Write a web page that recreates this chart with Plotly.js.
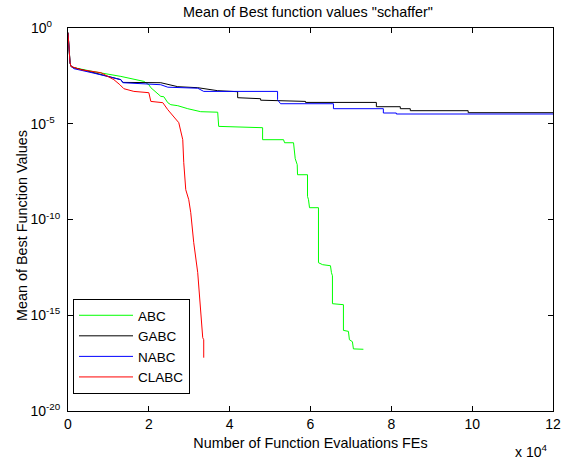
<!DOCTYPE html>
<html>
<head>
<meta charset="utf-8">
<script src="https://cdn.plot.ly/plotly-3.0.1.min.js"></script>
<style>html,body{margin:0;padding:0;background:#fff;}#chart{width:561px;height:464px;}</style>
</head>
<body>
<div id="chart"></div>
<script>
// Data (x: function evaluations, y: mean best value)
const seriesNames = ["ABC", "GABC", "NABC", "CLABC"];

const abcX = [0,247,500,741,1481,6420,13086,18765,20000,20494,22963,23704,24691,25432,27160,29630,32840,37037,37284,48148,48148,53333,53580,55802,56222,56716,56790,59259,59259,59506,59753,61975,61975,63000,64938,65185,65432,65432,68148,68148,69383,69630,70370,70617,73086];
const abcY = [5.69e-1,4.04e-2,1.54e-2,9.89e-3,8.45e-3,5.22e-3,2.97e-3,1.63e-3,1.09e-3,7.64e-4,2.68e-4,2.59e-4,1.26e-4,9.89e-5,8.77e-5,6.11e-5,4.26e-5,4.01e-5,7.28e-6,6.22e-6,1.47e-6,1.47e-6,1.02e-6,1.02e-6,1.50e-7,7.28e-8,2.18e-8,2.18e-8,1.61e-9,1.08e-9,4.13e-10,4.13e-10,5.55e-13,4.37e-13,3.86e-13,1.67e-13,1.15e-13,4.01e-15,3.56e-15,1.62e-16,1.44e-16,5.28e-17,4.16e-17,1.75e-17,1.67e-17];

const gabcX = [0,247,500,741,1481,6420,10617,13086,13580,22963,27160,32099,37037,41975,41975,47654,47654,55062,58765,58765,76296,76296,82222,82222,84691,84691,99012,99012,120000];
const gabcY = [5.69e-1,4.04e-2,1.54e-2,9.89e-3,8.45e-3,4.63e-3,2.86e-3,2.00e-3,1.44e-3,1.39e-3,8.61e-4,7.64e-4,5.32e-4,4.72e-4,2.29e-4,2.03e-4,1.70e-4,1.47e-4,1.47e-4,1.30e-4,1.30e-4,7.76e-5,7.76e-5,6.11e-5,6.11e-5,4.80e-5,4.80e-5,3.78e-5,3.78e-5];

const nabcX = [0,247,500,741,1481,6420,13086,13580,22963,24691,32099,33580,51852,51852,52593,65679,65679,78025,78025,81235,81235,120000];
const nabcY = [5.69e-1,4.04e-2,1.54e-2,9.89e-3,7.50e-3,4.37e-3,2.00e-3,1.39e-3,1.09e-3,8.11e-4,7.18e-4,4.89e-4,4.89e-4,1.80e-4,1.11e-4,1.11e-4,6.11e-5,6.11e-5,3.64e-5,3.64e-5,3.23e-5,3.23e-5];

const clabcX = [0,247,500,741,3210,8148,11358,12840,13827,16296,19506,20000,20494,23457,24691,26173,27407,28395,28642,29136,29877,30370,31111,32099,32593,32840,33086,33333,33580,33580];
const clabcY = [5.69e-1,4.04e-2,1.54e-2,9.89e-3,6.64e-3,4.63e-3,2.00e-3,1.09e-3,6.76e-4,4.89e-4,4.18e-4,4.18e-4,1.47e-4,1.26e-4,5.42e-5,2.33e-5,1.14e-5,1.47e-6,9.25e-8,3.60e-9,1.08e-9,2.26e-10,6.15e-12,1.67e-13,6.49e-15,8.39e-16,4.60e-16,6.73e-17,5.28e-17,6.08e-18];

const xTickVals = [0,20000,40000,60000,80000,100000,120000];
const xTickText = ["0","2","4","6","8","10","12"];
const yTickVals = [1e0,1e-5,1e-10,1e-15,1e-20];
// trailing no-break spaces keep the "10" bases left-aligned as in the reference
const yTickText = ["10<sup>0\u00a0\u00a0\u00a0</sup>","10<sup>-5\u00a0\u00a0</sup>","10<sup>-10</sup>","10<sup>-15</sup>","10<sup>-20</sup>"];

const colors = ["#00ff00", "#000000", "#0000ff", "#ff0000"];
const xs = [abcX, gabcX, nabcX, clabcX];
const ys = [abcY, gabcY, nabcY, clabcY];

const FONT = "Liberation Sans, Arial, sans-serif";
const W = 561, H = 464;
const M = {l: 68, r: 8, t: 28, b: 53};
const PW = W - M.l - M.r, PH = H - M.t - M.b;

const traces = seriesNames.map((n, i) => ({
  type: "scatter",
  mode: "lines",
  name: n,
  x: xs[i],
  y: ys[i],
  line: {color: colors[i], width: 1}
}));

const axisCommon = {
  showline: true, linecolor: "#000", linewidth: 1, mirror: "ticks",
  ticks: "inside", ticklen: 5, tickcolor: "#000", tickwidth: 1,
  showgrid: false, zeroline: false,
  tickfont: {family: FONT, size: 14, color: "#000"}
};

const layout = {
  width: W, height: H,
  margin: M,
  paper_bgcolor: "#fff", plot_bgcolor: "#fff",
  showlegend: true,
  title: {
    text: 'Mean of Best function values "schaffer"',
    font: {family: FONT, size: 14.4, color: "#000"},
    x: (308 - M.l) / PW, xref: "paper", xanchor: "center",
    y: 1 - 12 / H, yref: "container", yanchor: "middle"
  },
  xaxis: Object.assign({}, axisCommon, {
    range: [0, 120000], tickmode: "array", tickvals: xTickVals, ticktext: xTickText,
    ticklabelstandoff: 0,
    title: {text: "Number of Function Evaluations FEs", font: {family: FONT, size: 14.4, color: "#000"}, standoff: 7}
  }),
  yaxis: Object.assign({}, axisCommon, {
    type: "log", range: [-20, 0], tickmode: "array", tickvals: yTickVals, ticktext: yTickText,
    ticklabelstandoff: 4
  }),
  legend: {
    x: (73 - M.l) / PW, y: (411 - 394) / PH, xanchor: "left", yanchor: "bottom",
    bgcolor: "#fff", bordercolor: "#000", borderwidth: 1,
    font: {family: FONT, size: 13.5, color: "#000"},
    itemwidth: 54, tracegroupgap: 0
  },
  annotations: [
    {
      text: "Mean of Best Function Values", textangle: -90,
      xref: "paper", yref: "paper",
      x: (22 - M.l) / PW, y: (411 - 226) / PH, xanchor: "center", yanchor: "middle",
      showarrow: false, font: {family: FONT, size: 14.4, color: "#000"}
    },
    {
      text: "x 10<sup>4</sup>", xref: "paper", yref: "paper",
      x: (549 - M.l) / PW, y: -(450.7 - 411) / PH, xanchor: "right", yanchor: "middle",
      showarrow: false, font: {family: FONT, size: 14, color: "#000"}
    }
  ]
};

Plotly.newPlot("chart", traces, layout, {displayModeBar: false, staticPlot: true});
</script>
</body>
</html>
